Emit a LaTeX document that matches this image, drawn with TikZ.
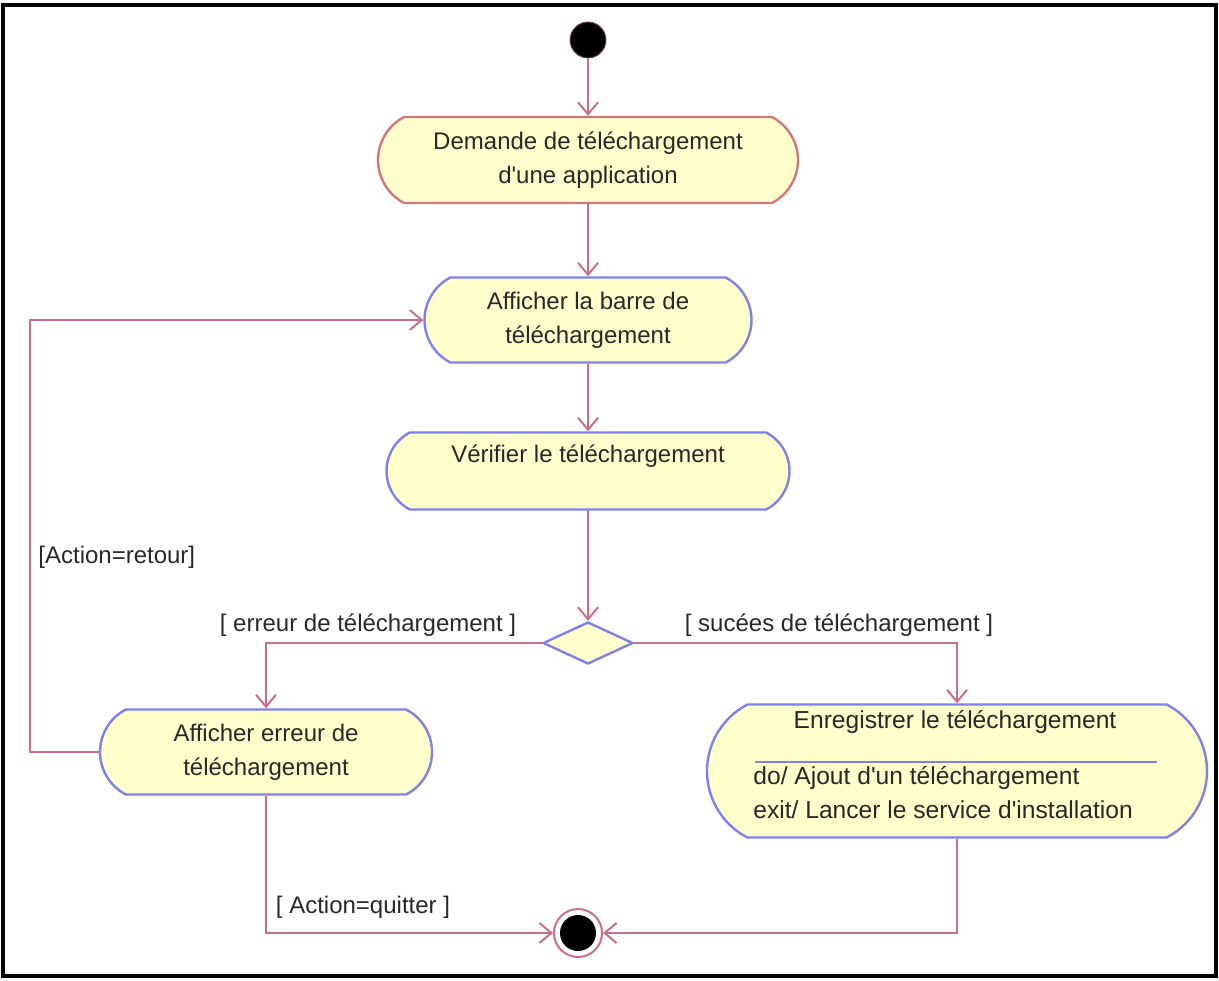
\documentclass[tikz,border=0pt]{standalone}
\usepackage{fontspec}
\setmainfont{Liberation Sans}
\usetikzlibrary{arrows.meta,shapes.misc,shapes.geometric}
\definecolor{flowc}{RGB}{200,110,140}
\definecolor{rosec}{RGB}{210,120,125}
\definecolor{bluec}{RGB}{128,128,235}
\definecolor{fillc}{RGB}{255,255,204}
\definecolor{txtc}{RGB}{40,40,40}
\newcommand{\ap}{\textquotesingle}
\tikzset{
  act/.style={rounded rectangle, rounded rectangle arc length=125, draw=bluec, line width=1.2pt, fill=fillc,
     inner sep=0pt, align=center, font=\fontsize{12}{17}\selectfont, text=txtc},
  flow/.style={draw=flowc, line width=1pt, -{Straight Barb[length=6pt,width=10pt]}},
  guard/.style={font=\fontsize{12}{15}\selectfont, text=txtc, inner sep=1pt}
}
\begin{document}
\begin{tikzpicture}[x=0.5pt,y=-0.5pt]
\useasboundingbox (0,0) rectangle (1219,980);
\draw[line width=2pt] (3,5) rectangle (1216,976);
% initial
\node[circle, fill=black, draw=flowc!60!black, minimum size=18pt, inner sep=0pt] (init) at (588,40) {};
% activities
\node[act, draw=rosec, minimum width=210pt, minimum height=43pt] (n1) at (588,160) {Demande de téléchargement\\d\ap une application};
\node[act, minimum width=163.5pt, minimum height=42.5pt] (n2) at (588,320) {Afficher la barre de\\téléchargement};
\node[act, minimum width=201.5pt, minimum height=38.5pt] (n3) at (588,471) {Vérifier le téléchargement\\\mbox{}};
\node[diamond, draw=bluec, line width=1.2pt, fill=fillc, minimum width=45pt, minimum height=21pt, inner sep=0pt] (d) at (588,643) {};
\node[act, minimum width=166pt, minimum height=42.5pt] (n4) at (266,752) {Afficher erreur de\\téléchargement};
\node[act, minimum width=250pt, minimum height=66.5pt] (n5) at (957,771) {};
\node[guard, font=\fontsize{12.3}{15}\selectfont] (n5t) at (955,722) {Enregistrer le téléchargement};
\draw[draw=bluec, line width=1.2pt] (755,762) -- (1157,762);
\node[guard, anchor=west, font=\fontsize{12.3}{15}\selectfont] (n5a) at (751,778) {do/ Ajout d\ap un téléchargement};
\node[guard, anchor=west, font=\fontsize{12.3}{15}\selectfont] (n5b) at (751,810) {exit/ Lancer le service d\ap installation};
% final
\node[circle, draw=flowc, line width=1pt, fill=white, minimum size=24pt, inner sep=0pt] (f) at (578,933) {};
\node[circle, fill=black, minimum size=18pt, inner sep=0pt] (fin) at (f.center) {};
% flows
\draw[flow] (init) -- (n1);
\draw[flow] (n1) -- (n2);
\draw[flow] (n2) -- (n3);
\draw[flow] (n3) -- (d);
\draw[flow] (d.west) -| (n4.north);
\draw[flow] (d.east) -| (n5.north);
\coordinate (lp) at (30,320);
\draw[flow] (n4.west) -| (lp) -- (n2.west);
\draw[flow] (n4.south) |- (f.west);
\draw[flow] (n5.south) |- (f.east);
% guards
\node[guard, anchor=west] (g1) at (36,557) {[Action=retour]};
\node[guard] (g2) at (368,625) {[ erreur de téléchargement ]};
\node[guard] (g3) at (839,625) {[ sucées de téléchargement ]};
\node[guard] (g4) at (363,907) {[ Action=quitter ]};
\end{tikzpicture}
\end{document}
